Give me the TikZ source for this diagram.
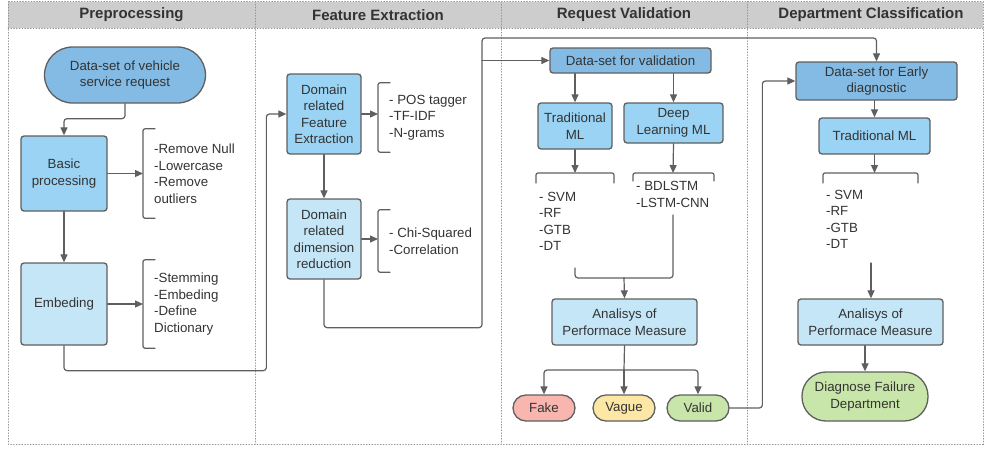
\documentclass[tikz,border=0pt]{standalone}
\usepackage{fontspec}
\setmainfont{Liberation Sans}
\usetikzlibrary{arrows.meta}

\definecolor{dkblue}{HTML}{83BBE5}
\definecolor{mdblue}{HTML}{9AD3F3}
\definecolor{ltblue}{HTML}{C4E6F7}
\definecolor{fakered}{HTML}{F9B6AE}
\definecolor{vagueyel}{HTML}{FDE7A5}
\definecolor{validgrn}{HTML}{C8E6A9}
\definecolor{headgray}{HTML}{CDCDCD}
\definecolor{linegray}{HTML}{5F5F5F}
\definecolor{txtgray}{HTML}{333333}

\tikzset{
  box/.style={draw=linegray,line width=1.3pt,rounded corners=3pt,align=center,inner sep=2pt},
  pill/.style={draw=linegray,line width=1.3pt,align=center,inner sep=2pt},
  lst/.style={align=left,inner sep=0pt,anchor=north west},
  lbrk/.style={align=left,inner ysep=0pt,inner xsep=11pt,anchor=west},
  conn/.style={draw=linegray,line width=1.2pt,rounded corners=3pt},
  brk/.style={draw=linegray,line width=1.2pt,rounded corners=2pt},
  lane/.style={draw=gray!85,line width=0.8pt,dotted},
  head/.style={font=\fontsize{15}{18}\selectfont\bfseries}
}

\begin{document}
\begin{tikzpicture}[x=1pt,y=-1pt,line cap=round,line join=round,>={Triangle[length=8pt,width=7pt]},
  font=\fontsize{13.3}{16.5}\selectfont,text=txtgray]
  \useasboundingbox (0,0) rectangle (984,448);

  % lanes
  \fill[headgray] (8,1.5) rectangle (983,28);
  \draw[lane] (8,1.5) rectangle (983,444);
  \draw[lane] (8,28) -- (983,28);
  \foreach \x in {255,501,747}
    \draw[lane] (\x,1.5) -- (\x,444);
  \node[head] (h1) at (131.5,15) {Preprocessing};
  \node[head] (h2) at (378,15) {Feature Extraction};
  \node[head] (h3) at (624,15) {Request Validation};
  \node[head] (h4) at (871,15) {Department Classification};

  % preprocessing
  \node[pill,fill=dkblue,minimum width=161pt,minimum height=56pt,rounded corners=28pt] (req) at (125,75) {Data-set of vehicle\\service request};
  \node[box,fill=mdblue,minimum width=86pt,minimum height=75pt] (basic) at (64,173.5) {Basic\\processing};
  \node[box,fill=ltblue,minimum width=86pt,minimum height=82pt] (embed) at (64,304) {Embeding};
  \node[lbrk,minimum height=89pt] (clean) at (143,173.5) {-Remove Null\\-Lowercase\\-Remove\\outliers};
  \node[lbrk,minimum height=88pt] (stem) at (143,304) {-Stemming\\-Embeding\\-Define\\Dictionary};
  \draw[brk] ([xshift=12pt]clean.north west) -- (clean.north west) -- (clean.south west) -- ([xshift=12pt]clean.south west);
  \draw[brk] ([xshift=12pt]stem.north west) -- (stem.north west) -- (stem.south west) -- ([xshift=12pt]stem.south west);

  \draw[conn,->] (req.south) -- ++(0,15) -| (basic.north);
  \draw[conn,->] (basic.east) -- (clean.west);
  \draw[conn,->] (basic.south) -- (embed.north);
  \draw[conn,->] (embed.east) -- (stem.west);

  % feature extraction
  \node[box,fill=mdblue,minimum width=74pt,minimum height=80pt] (featx) at (324,114) {Domain\\related\\Feature\\Extraction};
  \node[box,fill=ltblue,minimum width=74pt,minimum height=80pt] (dimred) at (324,239) {Domain\\related\\dimension\\reduction};
  \node[lbrk,minimum height=69pt] (pos) at (378,117.5) {- POS tagger\\-TF-IDF\\-N-grams};
  \node[lbrk,minimum height=62pt] (chi) at (378,241) {- Chi-Squared\\-Correlation};
  \draw[brk] ([xshift=12pt]pos.north west) -- (pos.north west) -- (pos.south west) -- ([xshift=12pt]pos.south west);
  \draw[brk] ([xshift=12pt]chi.north west) -- (chi.north west) -- (chi.south west) -- ([xshift=12pt]chi.south west);

  \draw[conn,->] (embed.south) -- ++(0,25) -| ([xshift=-20pt]featx.west) -- (featx.west);
  \draw[conn,->] (featx.east) -- (featx.east -| pos.west);
  \draw[conn,->] (featx.south) -- (dimred.north);
  \draw[conn,->] (dimred.east) -- (dimred.east -| chi.west);

  % request validation
  \node[box,fill=dkblue,minimum width=161pt,minimum height=25pt] (valset) at (630.5,60.5) {Data-set for validation};
  \node[box,fill=mdblue,minimum width=74pt,minimum height=46pt] (tradml) at (575,126) {Traditional\\ML};
  \node[box,fill=mdblue,minimum width=99pt,minimum height=40pt] (deepml) at (673.5,123) {Deep\\Learning ML};
  \node[lst] (svma) at (539,192) {- SVM\\-RF\\-GTB\\-DT};
  \node[lst] (bdl) at (636,181.5) {- BDLSTM\\-LSTM-CNN};
  \draw[brk] (536,183) -- (536,173) -- (614,173) -- (614,183);
  \draw[brk] (633,181) -- (633,173) -- (714,173) -- (714,181);
  \coordinate (ta) at (575,173);
  \coordinate (tb) at (673,173);
  \coordinate (ma) at (575,268);
  \coordinate (mb) at (673,215);
  \coordinate (mrg) at (624,278);
  \node[box,fill=ltblue,minimum width=145pt,minimum height=46pt] (ana) at (624.5,322) {Analisys of\\Performace Measure};
  \node[pill,fill=fakered,minimum width=62pt,minimum height=26pt,rounded corners=13pt] (fake) at (544,408) {Fake};
  \node[pill,fill=vagueyel,minimum width=62pt,minimum height=26pt,rounded corners=13pt] (vague) at (624,408) {Vague};
  \node[pill,fill=validgrn,minimum width=62pt,minimum height=26pt,rounded corners=13pt] (valid) at (698,408) {Valid};
  \coordinate (spl) at (624,370);
  \coordinate (jn) at (482,38);

  % department classification
  \node[box,fill=dkblue,minimum width=161pt,minimum height=38pt] (early) at (876.5,81) {Data-set for Early\\diagnostic};
  \node[box,fill=mdblue,minimum width=111pt,minimum height=36pt] (tradmlb) at (874.5,136) {Traditional ML};
  \node[lst] (svmb) at (826,190) {- SVM\\-RF\\-GTB\\-DT};
  \draw[brk] (823,183) -- (823,173) -- (918,173) -- (918,183);
  \coordinate (tc) at (874.5,173);
  \coordinate (mc) at (871,263);
  \node[box,fill=ltblue,minimum width=145pt,minimum height=46pt] (anb) at (870.5,322) {Analisys of\\Performace Measure};
  \node[pill,fill=validgrn,minimum width=126pt,minimum height=49pt,rounded corners=24pt] (diag) at (865,396.5) {Diagnose Failure\\Department};

  \draw[conn,->] (dimred.south) -- ++(0,48) -| (jn) -| (early.north);
  \draw[conn,->] (jn |- valset.west) -- (valset.west);
  \draw[conn,->] (valset.south -| tradml.north) -- (tradml.north);
  \draw[conn,->] (valset.south -| deepml.north) -- (deepml.north);
  \draw[conn,->] (tradml.south) -- (ta);
  \draw[conn,->] (deepml.south) -- (tb);
  \draw[conn] (ma) |- (mrg);
  \draw[conn] (mb) |- (mrg);
  \draw[conn,->] (mrg) -- (ana.north);
  \draw[conn] (ana.south) -- (spl);
  \draw[conn,->] (spl) -| (fake.north);
  \draw[conn,->] (spl) -- (vague.north);
  \draw[conn,->] (spl) -| (valid.north);

  \draw[conn,->] (valid.east) -| ([xshift=-33pt]early.west) -- (early.west);
  \draw[conn,->] (early.south -| tradmlb.north) -- (tradmlb.north);
  \draw[conn,->] (tradmlb.south) -- (tc);
  \draw[conn,->] (mc) -- (mc |- anb.north);
  \draw[conn,->] (anb.south -| diag.north) -- (diag.north);
\end{tikzpicture}
\end{document}
